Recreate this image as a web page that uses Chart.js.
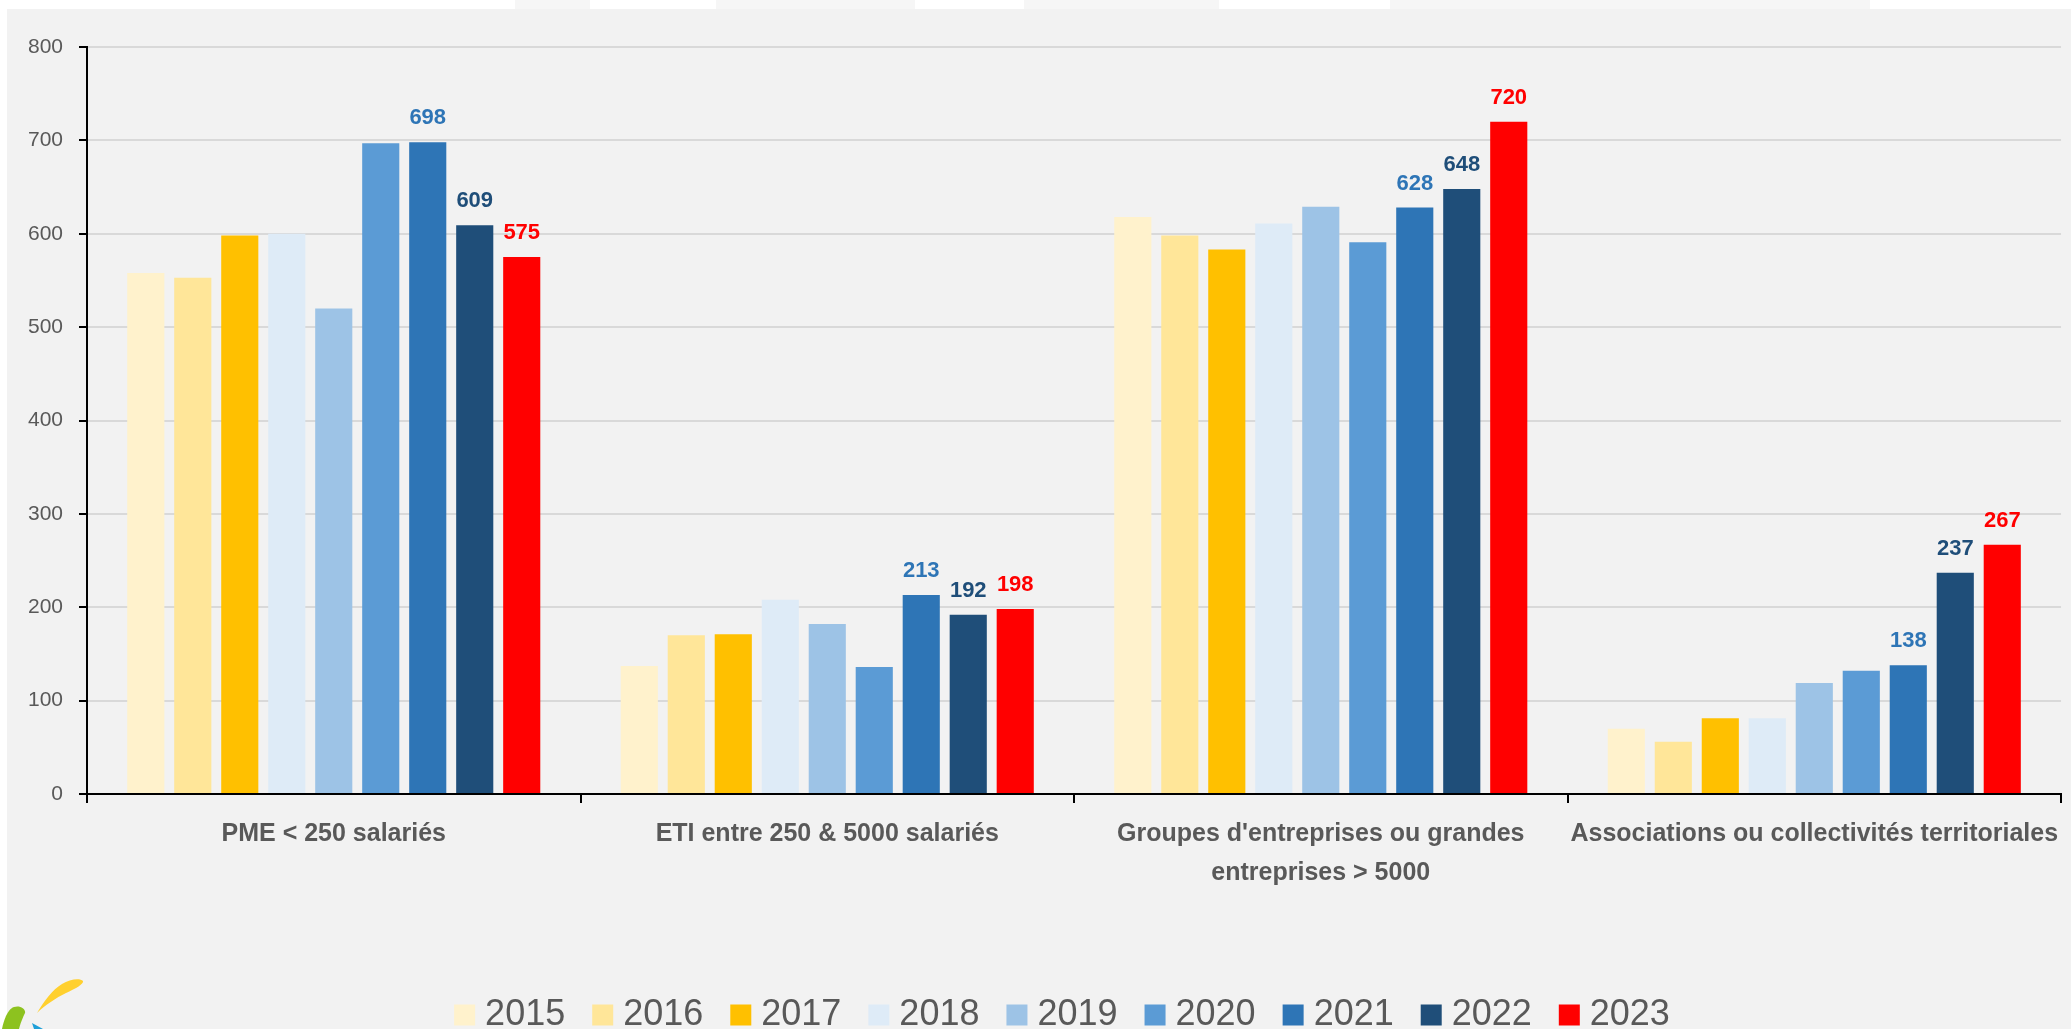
<!DOCTYPE html>
<html lang="fr">
<head>
  <meta charset="UTF-8">
  <title>Répartition par type d'organisation</title>
  <script src="https://cdn.jsdelivr.net/npm/chart.js"></script>
  <style>
    html, body { margin: 0; padding: 0; background: #fff; overflow: hidden; }
    .panel { position: absolute; left: 7px; top: 9px; width: 2064px; height: 1020px; background: #f2f2f2; }
    .strip { position: absolute; top: 0; height: 9px; background: #f6f6f6; }
    .logo { position: absolute; left: 0; top: 975px; }
    .chart-box { position: absolute; left: 0; top: 0; width: 2071px; height: 1029px; }
  </style>
</head>
<body>
  <div class="strip" style="left:515px;width:75px"></div>
  <div class="strip" style="left:716px;width:199px"></div>
  <div class="strip" style="left:1024px;width:195px"></div>
  <div class="strip" style="left:1390px;width:480px"></div>
  <div class="panel"></div>

  <!-- bout de logo en bas à gauche -->
  <svg class="logo" width="90" height="54" viewBox="0 0 90 54">
    <path d="M37,38 C45,25 52,15 62,9 C70,4 80,3 83,6 C84,9 75,14 66,18 C56,23 45,30 37,38 Z" fill="#ffd02f"/>
    <path d="M2,54 C4,44 8,34 14,32 C20,30 26,34 25,38 C22,44 20,50 19,54 Z" fill="#8dc21f"/>
    <path d="M32,48 L43,54 L34,54 Z" fill="#1e9fd8"/>
  </svg>

  <div class="chart-box"><canvas id="myBarChart"></canvas></div>

  <script>
    // Catégories et valeurs par année
    const categories = [
      'PME < 250 salariés',
      'ETI entre 250 & 5000 salariés',
      ["Groupes d'entreprises ou grandes", 'entreprises > 5000'],
      'Associations ou collectivités territoriales'
    ];
    const years = ['2015', '2016', '2017', '2018', '2019', '2020', '2021', '2022', '2023'];

    const values2015 = [558, 137, 618, 70];
    const values2016 = [553, 170, 598, 56];
    const values2017 = [598, 171, 583, 81];
    const values2018 = [600, 208, 611, 81];
    const values2019 = [520, 182, 629, 119];
    const values2020 = [697, 136, 591, 132];
    const values2021 = [698, 213, 628, 138];
    const values2022 = [609, 192, 648, 237];
    const values2023 = [575, 198, 720, 267];

    const yTicks = [0, 100, 200, 300, 400, 500, 600, 700, 800];
    const labelledYears = ['2021', '2022', '2023'];

    const seriesValues = [values2015, values2016, values2017, values2018, values2019,
                          values2020, values2021, values2022, values2023];
    const seriesColors = ['#fff2cc', '#ffe699', '#ffc000', '#deebf7', '#9dc3e6',
                          '#5b9bd5', '#2e75b6', '#1f4e79', '#ff0000'];

    const textColor = '#595959';
    const fontFamily = '"Liberation Sans", Arial, sans-serif';

    // étiquettes de valeur au-dessus des barres 2021-2023
    const valueLabels = {
      id: 'valueLabels',
      afterDatasetsDraw(chart) {
        const ctx = chart.ctx;
        ctx.save();
        ctx.font = 'bold 22px ' + fontFamily;
        ctx.textAlign = 'center';
        ctx.textBaseline = 'alphabetic';
        chart.data.datasets.forEach((ds, i) => {
          if (!labelledYears.includes(ds.label)) return;
          chart.getDatasetMeta(i).data.forEach((bar, j) => {
            ctx.fillStyle = ds.backgroundColor;
            ctx.fillText(ds.data[j], bar.x, bar.y - 18);
          });
        });
        ctx.restore();
      }
    };

    // légende du bas
    const bottomLegend = {
      id: 'bottomLegend',
      afterDraw(chart, args, opts) {
        const ctx = chart.ctx;
        ctx.save();
        ctx.font = opts.font;
        const items = chart.data.datasets.map(ds => ({
          text: ds.label,
          color: ds.backgroundColor,
          w: opts.box + opts.gap + ctx.measureText(ds.label).width
        }));
        const total = items.reduce((s, it) => s + it.w, 0) + opts.spacing * (items.length - 1);
        let x = opts.centerX - total / 2;
        ctx.textBaseline = 'middle';
        ctx.textAlign = 'left';
        items.forEach(it => {
          ctx.fillStyle = it.color;
          ctx.fillRect(x, opts.y - opts.box / 2, opts.box, opts.box);
          ctx.fillStyle = textColor;
          ctx.fillText(it.text, x + opts.box + opts.gap, opts.y);
          x += it.w + opts.spacing;
        });
        ctx.restore();
      }
    };

    const chartData = {
      labels: categories,
      datasets: years.map((year, i) => ({
        label: year,
        data: seriesValues[i],
        backgroundColor: seriesColors[i],
        borderWidth: 0,
        categoryPercentage: 0.857,
        barPercentage: 0.79
      }))
    };

    const barCtx = document.getElementById('myBarChart').getContext('2d');
    new Chart(barCtx, {
      type: 'bar',
      data: chartData,
      plugins: [valueLabels, bottomLegend],
      options: {
        responsive: true,
        maintainAspectRatio: false,
        animation: false,
        layout: {
          padding: { top: 47, left: 0, right: 7, bottom: 0 }
        },
        plugins: {
          legend: { display: false },
          tooltip: { enabled: false },
          bottomLegend: {
            font: '36px ' + fontFamily,
            box: 21,
            gap: 10,
            spacing: 27,
            centerX: 1062,
            y: 1015
          }
        },
        scales: {
          x: {
            afterFit: scale => { scale.height = 235; },
            border: { color: '#000', width: 2 },
            grid: {
              offset: true,
              drawOnChartArea: false,
              drawTicks: true,
              tickLength: 9,
              color: '#000',
              lineWidth: 2
            },
            ticks: {
              color: textColor,
              font: { family: fontFamily, size: 25, weight: 'bold', lineHeight: 1.54 },
              padding: 12,
              maxRotation: 0,
              autoSkip: false
            }
          },
          y: {
            min: 0,
            max: 800,
            afterFit: scale => { scale.width = 87; },
            afterBuildTicks: scale => { scale.ticks = yTicks.map(v => ({ value: v })); },
            border: { color: '#000', width: 2 },
            grid: {
              color: '#d9d9d9',
              lineWidth: 2,
              tickColor: '#000',
              tickLength: 8,
              tickWidth: 2
            },
            ticks: {
              color: textColor,
              font: { family: fontFamily, size: 21 },
              padding: 16
            }
          }
        }
      }
    });
  </script>
</body>
</html>
